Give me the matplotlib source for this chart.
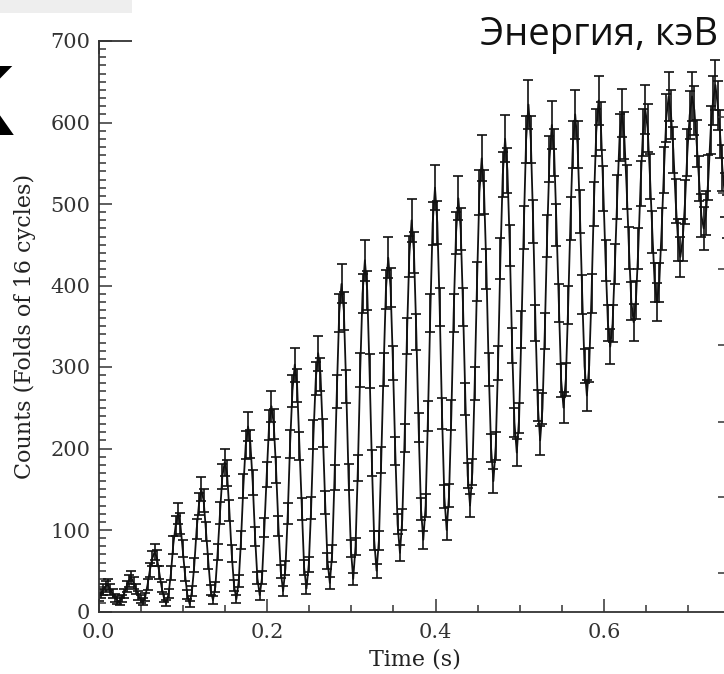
import numpy as np
import matplotlib
matplotlib.use("Agg")
import matplotlib.pyplot as plt
from matplotlib.ticker import MultipleLocator, FormatStrFormatter
from matplotlib.patches import Rectangle

# ---- data (folded light curve, counts per time bin) ----
bin_width = 0.002773  # s
counts = [
    18, 22, 27, 31, 33, 27, 22, 17, 14, 12,
    16, 22, 31, 38, 42, 35, 28, 20, 15, 12,
    18, 33, 51, 65, 73, 66, 48, 30, 17, 10,
    22, 47, 82, 105, 120, 108, 77, 46, 21, 9,
    25, 57, 101, 132, 150, 136, 98, 61, 26, 14,
    30, 73, 121, 166, 183, 170, 124, 71, 32, 15,
    37, 88, 154, 204, 227, 206, 158, 92, 41, 20,
    42, 103, 168, 229, 252, 230, 174, 105, 49, 25,
    53, 120, 206, 271, 303, 277, 203, 126, 54, 28,
    58, 127, 217, 286, 317, 291, 219, 134, 62, 35,
    71, 164, 270, 366, 402, 369, 276, 165, 77, 40,
    80, 176, 296, 390, 431, 394, 295, 182, 87, 50,
    87, 186, 297, 395, 434, 397, 305, 197, 107, 72,
    113, 213, 338, 436, 480, 441, 343, 226, 126, 88,
    130, 240, 366, 476, 520, 477, 374, 243, 141, 100,
    142, 241, 366, 464, 507, 469, 374, 261, 167, 130,
    171, 280, 405, 514, 556, 515, 420, 297, 201, 160,
    203, 305, 433, 536, 580, 541, 449, 326, 232, 195,
    237, 346, 471, 579, 622, 579, 479, 354, 253, 210,
    249, 344, 461, 555, 597, 563, 474, 379, 284, 250,
    285, 376, 482, 573, 610, 573, 491, 389, 301, 265,
    302, 390, 500, 588, 627, 596, 519, 431, 354, 325,
    353, 426, 509, 582, 612, 584, 521, 446, 381, 355,
    382, 445, 525, 588, 616, 593, 534, 466, 404, 380,
    404, 469, 542, 606, 632, 610, 566, 504, 456, 435,
    456, 502, 563, 609, 632, 615, 574, 531, 486, 470,
    489, 532, 591, 627, 646, 621, 586, 544, 511, 485,
    470,
]
err_scale = 1.2  # error bars ~ scaled Poisson error
x_label = "Time (s)"
y_label = "Counts (Folds of 16 cycles)"
overlay_text = "Энергия, кэВ"
right_tick_values = [47, 140, 233, 327, 420, 513, 607]

counts = np.array(counts, dtype=float)
time = np.arange(len(counts)) * bin_width
errors = err_scale * np.sqrt(counts)

W, H = 724, 674
fig = plt.figure(figsize=(W / 100, H / 100), dpi=100)
fig.patch.set_facecolor("white")

ax = fig.add_axes([98.5 / W, 62.5 / H, 632 / W, 570.5 / H])
ax.errorbar(time, counts, yerr=errors, fmt='-', color='#111111', lw=1.3,
            elinewidth=1.2, capsize=3.4, capthick=1.2)
ax.set_xlim(0, 0.75)
ax.set_ylim(0, 700)

ax.xaxis.set_major_locator(MultipleLocator(0.2))
ax.xaxis.set_minor_locator(MultipleLocator(0.05))
ax.xaxis.set_major_formatter(FormatStrFormatter('%.1f'))
ax.yaxis.set_major_locator(MultipleLocator(100))
ax.yaxis.set_minor_locator(MultipleLocator(10))

serif = ['DejaVu Serif']
ax.tick_params(which='both', direction='in', top=True, right=False,
               colors='#333333', width=1.1)
ax.tick_params(which='major', length=9.4)
ax.tick_params(which='minor', length=5.0)
ax.tick_params(axis='x', which='major', pad=8)
ax.tick_params(axis='y', which='major', pad=6)
for lab in ax.get_xticklabels() + ax.get_yticklabels():
    lab.set_family(serif)
    lab.set_fontsize(15)
    lab.set_color('#333333')
for sp in ax.spines.values():
    sp.set_linewidth(1.3)
    sp.set_color('#333333')

ax.set_xlabel(x_label, family=serif, fontsize=16, labelpad=5, color='#222222')
ax.set_ylabel(y_label, family=serif, fontsize=16, labelpad=10, color='#222222')

# right-hand axis ticks
axr = ax.twinx()
axr.set_ylim(0, 700)
axr.set_yticks(right_tick_values)
axr.tick_params(axis='y', direction='in', length=9.4, width=1.1,
                colors='#333333', labelright=False)
for sp in axr.spines.values():
    sp.set_visible(False)

# overlays from the slide
fig.add_artist(Rectangle((0, (H - 13) / H), 132 / W, 13 / H,
                         transform=fig.transFigure, facecolor='#eeeeee',
                         edgecolor='none', zorder=5))
fig.add_artist(Rectangle((132 / W, (H - 54) / H), 1 - 132 / W, 54 / H,
                         transform=fig.transFigure, facecolor='white',
                         edgecolor='none', zorder=5))
fig.text(480 / W, (H - 45) / H, overlay_text, family=['Open Sans', 'DejaVu Sans'],
         fontsize=27.5, color='#111111', ha='left', va='baseline', zorder=6)
fig.text(14 / W, (H - 135) / H, 'К', family=['DejaVu Sans'], fontsize=68,
         fontweight='bold', color='black', ha='right', va='baseline', zorder=6)

fig.savefig('out.png', dpi=100)
